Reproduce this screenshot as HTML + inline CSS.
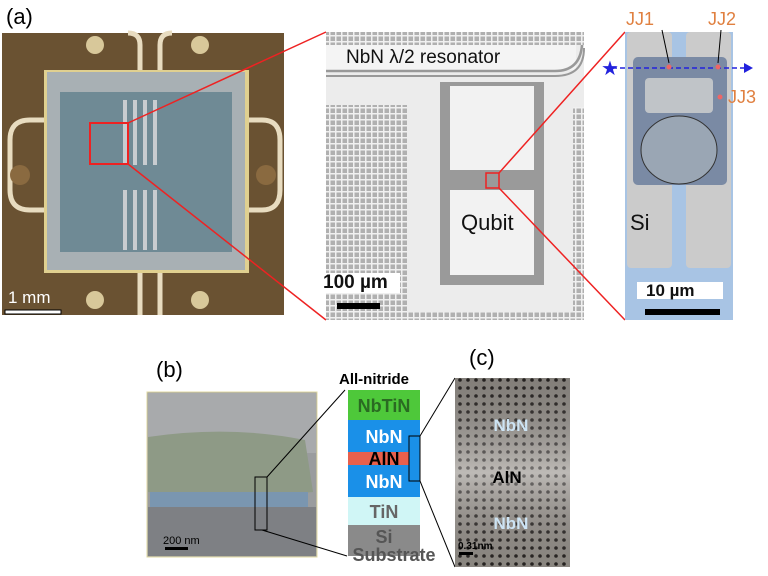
<!DOCTYPE html>
<html><head><meta charset="utf-8"><style>body{margin:0;background:#fff}svg{display:block}text{font-family:"Liberation Sans",sans-serif}</style></head><body>
<svg width="768" height="576" viewBox="0 0 768 576" xmlns="http://www.w3.org/2000/svg">
<defs>
<pattern id="grid" width="6" height="6" patternUnits="userSpaceOnUse"><rect width="6" height="6" fill="#f0f0f0"/><rect x="0.5" y="0.5" width="4.5" height="4.5" fill="#b0b0b0"/></pattern>
<pattern id="dots" width="8" height="8" patternUnits="userSpaceOnUse"><rect width="8" height="8" fill="#9a958f"/><circle cx="4" cy="4" r="1.8" fill="#2a2624"/></pattern>
<linearGradient id="tem" x1="0" y1="0" x2="0" y2="1"><stop offset="0" stop-color="#000" stop-opacity="0.15"/><stop offset="0.5" stop-color="#fff" stop-opacity="0.35"/><stop offset="1" stop-color="#000" stop-opacity="0.1"/></linearGradient>
</defs>
<text x="6" y="24" font-size="22">(a)</text>
<rect x="2" y="33" width="282" height="282" fill="#6a5232"/>
<g fill="none" stroke="#e8dcc0" stroke-width="5">
<path d="M47 120 H30 Q10 120 10 140 V190 Q10 210 30 210 H47"/>
<path d="M245 120 H262 Q280 120 280 140 V190 Q280 210 262 210 H245"/>
<path d="M140 72 V45 Q140 33 128 33 M160 72 V45 Q160 33 172 33"/>
<path d="M140 270 V315 M160 270 V315"/>
</g>
<g fill="#d8c89a"><circle cx="95" cy="45" r="9"/><circle cx="200" cy="45" r="9"/><circle cx="95" cy="300" r="9"/><circle cx="200" cy="300" r="9"/></g>
<g fill="#8a6a40"><circle cx="20" cy="175" r="10"/><circle cx="266" cy="175" r="10"/></g>
<rect x="44" y="70" width="205" height="203" fill="#e0d090"/>
<rect x="47" y="72" width="198" height="198" fill="#a8b0b4"/>
<rect x="60" y="92" width="172" height="160" fill="#6f8a95"/>
<g fill="none" stroke="#c8ccd0" stroke-width="4"><path d="M125 100 V165 M135 100 V165 M145 100 V165 M155 100 V165 M125 190 V250 M135 190 V250 M145 190 V250 M155 190 V250"/></g>
<rect x="90" y="123" width="38" height="41" fill="none" stroke="#e22" stroke-width="2"/>
<rect x="5" y="310" width="56" height="4" fill="#fff" stroke="#000" stroke-width="1"/>
<text x="8" y="303" font-size="17" fill="#fff">1 mm</text>
<line x1="128" y1="123" x2="326" y2="32" stroke="#e22" stroke-width="1.5"/>
<line x1="128" y1="164" x2="326" y2="320" stroke="#e22" stroke-width="1.5"/>
<rect x="326" y="32" width="258" height="288" fill="#ececec"/>
<rect x="326" y="32" width="258" height="13" fill="url(#grid)"/>
<rect x="326" y="105" width="81" height="215" fill="url(#grid)"/>
<rect x="573" y="107" width="11" height="213" fill="url(#grid)"/>
<rect x="326" y="312" width="258" height="8" fill="url(#grid)"/>
<rect x="326" y="45" width="250" height="25" fill="#f4f4f4"/>
<path d="M326 71 H555 Q580 71 582 45" fill="none" stroke="#999" stroke-width="2.5"/>
<path d="M326 76 H555 Q584 76 584 48" fill="none" stroke="#999" stroke-width="2"/>
<text x="346" y="63" font-size="19" fill="#111">NbN λ/2 resonator</text>
<rect x="440" y="82" width="104" height="203" fill="#9a9a9a"/>
<rect x="450" y="86" width="84" height="84" fill="#f2f2f2"/>
<rect x="450" y="190" width="84" height="85" fill="#f2f2f2"/>
<rect x="486" y="173" width="13" height="15" fill="none" stroke="#e22" stroke-width="1.5"/>
<text x="461" y="230" font-size="22" fill="#111">Qubit</text>
<rect x="321" y="273" width="79" height="20" fill="#fff"/>
<text x="323" y="288" font-size="19" font-weight="bold" fill="#111">100 µm</text>
<rect x="337" y="303" width="43" height="6" fill="#000"/>
<line x1="499" y1="173" x2="625" y2="32" stroke="#e22" stroke-width="1.5"/>
<line x1="499" y1="188" x2="625" y2="320" stroke="#e22" stroke-width="1.5"/>
<rect x="625" y="32" width="108" height="288" fill="#a8c4e4"/>
<rect x="627" y="32" width="45" height="236" rx="4" fill="#cbcbcb"/>
<rect x="686" y="32" width="45" height="236" rx="4" fill="#cbcbcb"/>
<rect x="633" y="57" width="94" height="128" rx="5" fill="#7a8aa4"/>
<rect x="645" y="78" width="68" height="35" rx="4" fill="#c0c4c8"/>
<ellipse cx="679" cy="150" rx="38" ry="34" fill="#9aa6b4" stroke="#333" stroke-width="1"/>
<rect x="637" y="282" width="86" height="17" fill="#fff"/>
<text x="646" y="296" font-size="17" font-weight="bold" fill="#111">10 µm</text>
<rect x="645" y="309" width="75" height="6" fill="#000"/>
<text x="630" y="230" font-size="22" fill="#111">Si</text>
<text x="626" y="25" font-size="18" fill="#e08040">JJ1</text>
<text x="708" y="25" font-size="18" fill="#e08040">JJ2</text>
<text x="728" y="103" font-size="18" fill="#e08040">JJ3</text>
<line x1="612" y1="68" x2="746" y2="68" stroke="#22d" stroke-width="1.5" stroke-dasharray="5,3"/>
<path d="M744 63 L753 68 L744 73Z" fill="#22d"/>
<text x="601" y="75" font-size="20" fill="#22d">★</text>
<circle cx="669" cy="67" r="2.5" fill="#e66"/><circle cx="718" cy="67" r="2.5" fill="#e66"/><circle cx="720" cy="97" r="2.5" fill="#e66"/>
<line x1="662" y1="30" x2="669" y2="63" stroke="#000"/><line x1="721" y1="30" x2="718" y2="63" stroke="#000"/>
<text x="156" y="377" font-size="22">(b)</text>
<rect x="147" y="392" width="170" height="165" fill="#9a9c9e" stroke="#e0d8a0"/>
<rect x="148" y="393" width="168" height="60" fill="#a8aaac"/>
<path d="M148 437 Q230 425 305 440 L313 492 Q230 500 148 492Z" fill="#8e9a86"/>
<rect x="150" y="492" width="158" height="15" fill="#7a96b0"/>
<rect x="148" y="507" width="168" height="49" fill="#7e8084"/>
<rect x="255" y="477" width="12" height="53" fill="none" stroke="#000"/>
<text x="163" y="544" font-size="11" fill="#000">200 nm</text>
<rect x="165" y="547" width="23" height="3" fill="#000"/>
<line x1="267" y1="477" x2="345" y2="390" stroke="#000"/>
<line x1="262" y1="530" x2="347" y2="556" stroke="#000"/>
<text x="339" y="384" font-size="15" font-weight="bold">All-nitride</text>
<rect x="348" y="390" width="72" height="30" fill="#4ec83a"/>
<rect x="348" y="420" width="72" height="32" fill="#1a90e8"/>
<rect x="348" y="452" width="72" height="13" fill="#e8604c"/>
<rect x="348" y="465" width="72" height="32" fill="#1a90e8"/>
<rect x="348" y="497" width="72" height="28" fill="#d0f6f6"/>
<rect x="348" y="525" width="72" height="31" fill="#8a8a8a"/>
<g font-size="18" font-weight="bold" text-anchor="middle">
<text x="384" y="412" fill="#2a6a22">NbTiN</text>
<text x="384" y="443" fill="#fff">NbN</text>
<text x="384" y="465" fill="#000">AlN</text>
<text x="384" y="488" fill="#fff">NbN</text>
<text x="384" y="518" fill="#666">TiN</text>
<text x="384" y="543" fill="#555">Si</text>
<text x="394" y="561" fill="#555">Substrate</text>
</g>
<rect x="409" y="436" width="11" height="45" fill="#1a90e8" stroke="#000"/>
<line x1="420" y1="436" x2="455" y2="378" stroke="#000"/>
<line x1="420" y1="481" x2="455" y2="567" stroke="#000"/>
<text x="469" y="365" font-size="22">(c)</text>
<rect x="455" y="378" width="115" height="189" fill="url(#dots)"/>
<rect x="455" y="378" width="115" height="189" fill="url(#tem)"/>
<g font-size="17" font-weight="bold" text-anchor="middle">
<text x="511" y="431" fill="#cde4f4">NbN</text>
<text x="507" y="483" fill="#000">AlN</text>
<text x="511" y="529" fill="#cde4f4">NbN</text>
</g>
<text x="458" y="549" font-size="10" font-weight="bold" fill="#000">0.31nm</text>
<rect x="459" y="552" width="14" height="3" fill="#000"/>
</svg>
</body></html>
